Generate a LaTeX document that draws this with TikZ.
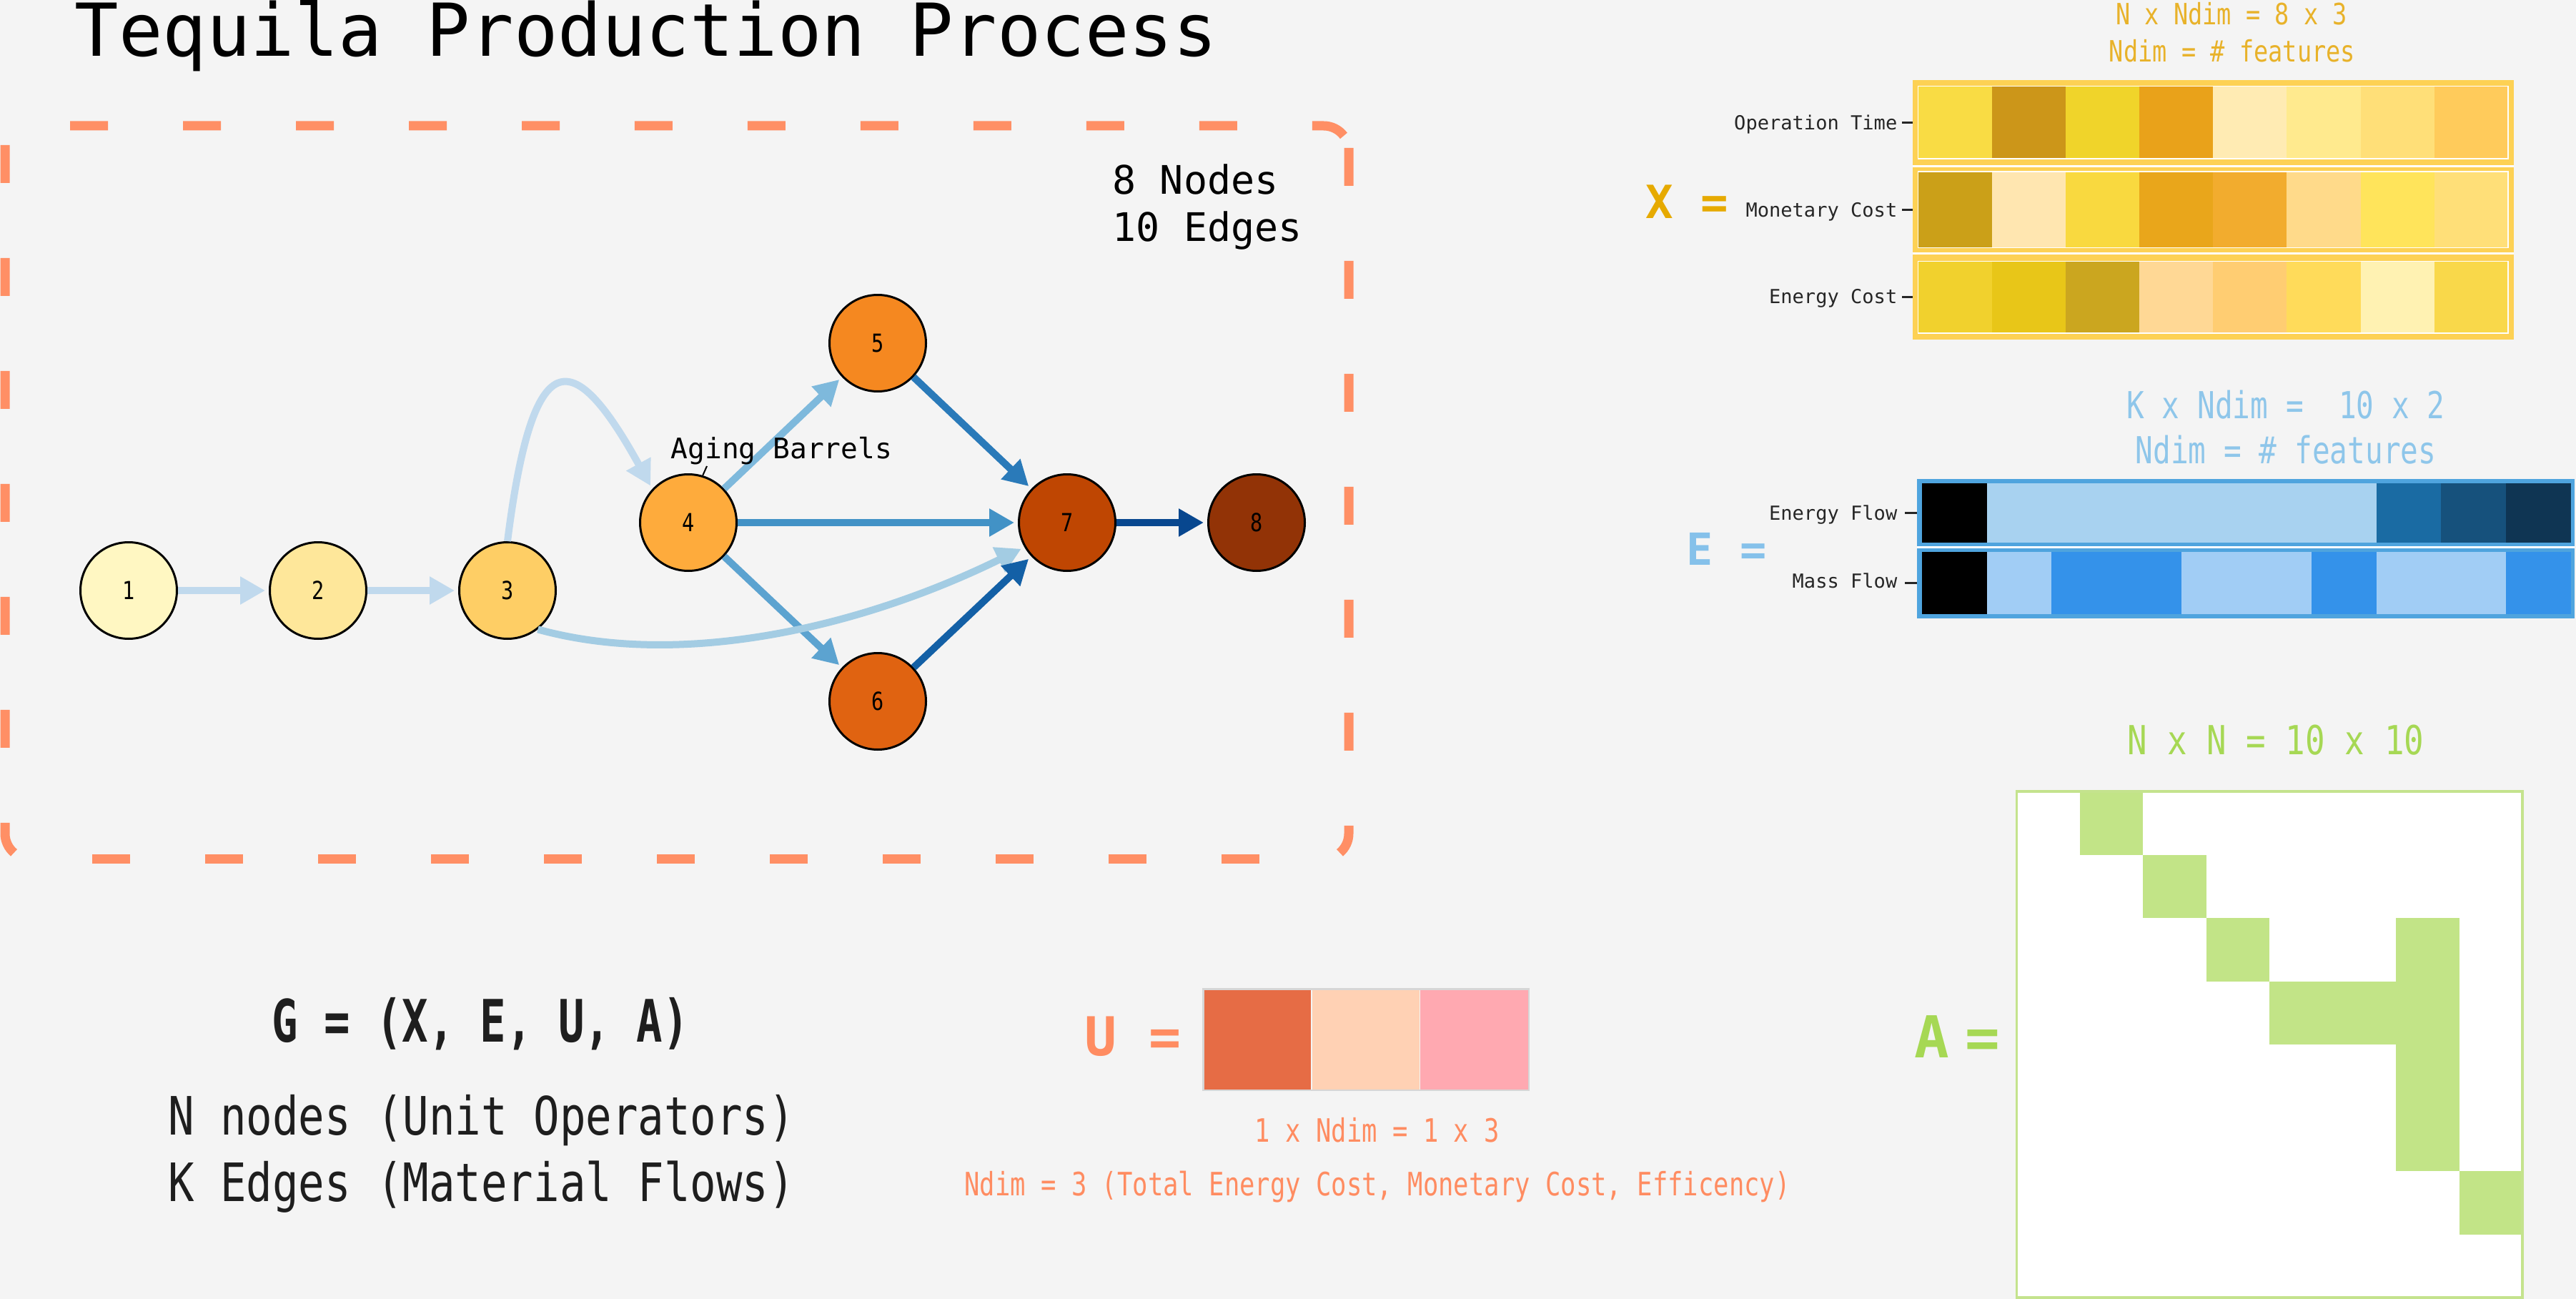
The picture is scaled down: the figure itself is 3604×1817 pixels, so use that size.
\documentclass[tikz,border=0pt]{standalone}
\usepackage{fontspec}
\usetikzlibrary{arrows.meta}
\newfontfamily\mono{DejaVu Sans Mono}
\newfontfamily\monoc[FakeStretch=0.82]{DejaVu Sans Mono}
\newfontfamily\monod[FakeStretch=0.79]{DejaVu Sans Mono}
\newfontfamily\monog[FakeStretch=0.74]{DejaVu Sans Mono}
\definecolor{bg}{HTML}{F4F4F4}
\definecolor{boxc}{HTML}{FF8F65}
\definecolor{txtdark}{HTML}{1E1E1E}
\definecolor{tickc}{HTML}{262626}
\definecolor{xlab}{HTML}{E6AA00}
\definecolor{xtit}{HTML}{E8B22A}
\definecolor{xgold}{HTML}{FDD154}
\definecolor{elab}{HTML}{85C1EA}
\definecolor{etit}{HTML}{8EC6EA}
\definecolor{eblue}{HTML}{4FA4DE}
\definecolor{alab}{HTML}{A6D854}
\definecolor{acell}{HTML}{C2E487}
\definecolor{aframe}{HTML}{C4E38D}
\definecolor{ulab}{HTML}{FF8C61}
\definecolor{uframe}{HTML}{D6D6D6}
\definecolor{c1}{HTML}{FFF7C2}
\definecolor{c2}{HTML}{FEE79A}
\definecolor{c3}{HTML}{FECE65}
\definecolor{c4}{HTML}{FEAB3C}
\definecolor{c5}{HTML}{F58820}
\definecolor{c6}{HTML}{E06311}
\definecolor{c7}{HTML}{BF4602}
\definecolor{c8}{HTML}{923306}
\definecolor{e12}{HTML}{C0D9ED}
\definecolor{e37}{HTML}{A3CCE3}
\definecolor{e45}{HTML}{7EB9DC}
\definecolor{e46}{HTML}{5CA3D0}
\definecolor{e47}{HTML}{4292C6}
\definecolor{e57}{HTML}{2A7AB9}
\definecolor{e67}{HTML}{1360A6}
\definecolor{e78}{HTML}{08478F}
\begin{document}
\begin{tikzpicture}[x=0.1mm,y=-0.1mm,
  gnode/.style={circle,draw=black,line width=0.3mm,minimum size=13.5mm,inner sep=0pt,
    font=\monoc\fontsize{9.9}{11}\selectfont},
  flow/.style={line width=1mm,-{Triangle[length=3.5mm,width=3.7mm]},shorten >=0.5mm},
  boxline/.style={draw=boxc,line width=1.3mm,dash pattern=on 5.3mm off 10.5mm},
  txt/.style={inner sep=0pt},
  tickmark/.style={draw=tickc,line width=0.3mm},
  ticklab/.style={txt,anchor=base east,text=tickc,font=\mono\fontsize{7.7}{9}\selectfont},
]
\useasboundingbox (0,0) rectangle (3604,1817);
\fill[bg] (0,0) rectangle (3604,1817);

% title
\node[txt,anchor=base west,font=\mono\fontsize{29.05}{34}\selectfont] (title) at (104,79) {Tequila Production Process};

% dashed frame
\draw[boxline] (98,176) -- (1852,176) arc[start angle=270,end angle=323,radius=35];
\draw[boxline] (7,203) -- (7,1166) arc[start angle=180,end angle=130,radius=35];
\draw[boxline] (1887,207) -- (1887,1166) arc[start angle=0,end angle=50,radius=35];
\draw[boxline] (129,1201) -- (1762,1201);

\node[txt,anchor=base west,font=\mono\fontsize{15.65}{19}\selectfont] (nnodes) at (1556,272) {8 Nodes};
\node[txt,anchor=base west,font=\mono\fontsize{15.65}{19}\selectfont] (nedges) at (1556,338) {10 Edges};

% graph nodes
\node[gnode,fill=c1] (n1) at (180,826) {1};
\node[gnode,fill=c2] (n2) at (445,826) {2};
\node[gnode,fill=c3] (n3) at (710,826) {3};
\node[gnode,fill=c4] (n4) at (963,731) {4};
\node[gnode,fill=c5] (n5) at (1228,480) {5};
\node[gnode,fill=c6] (n6) at (1228,981) {6};
\node[gnode,fill=c7] (n7) at (1493,731) {7};
\node[gnode,fill=c8] (n8) at (1758,731) {8};

% edges
\draw[flow,draw=e12] (n1) -- (n2);
\draw[flow,draw=e12] (n2) -- (n3);
\draw[flow,draw=e12] (n3.north) .. controls (745,480) and (800,480) .. (n4.137);
\draw[flow,draw=e45] (n4) -- (n5);
\draw[flow,draw=e46] (n4) -- (n6);
\draw[flow,draw=e47] (n4) -- (n7);
\draw[flow,draw=e37] (n3.-52) .. controls (950,935) and (1200,880) .. (n7.210);
\draw[flow,draw=e57] (n5) -- (n7);
\draw[flow,draw=e67] (n6) -- (n7);
\draw[flow,draw=e78] (n7) -- (n8);

% annotation
\node[txt,anchor=base west,font=\mono\fontsize{11.25}{13}\selectfont] (aging) at (938,641) {Aging Barrels};
\coordinate (agpt) at (989,652);
\draw[line width=0.2mm] (agpt) -- (n4.73);

% G definition
\node[txt,anchor=base,text=txtdark,font=\monog\bfseries\fontsize{23.3}{28}\selectfont] (gdef) at (672,1457) {G = (X, E, U, A)};
\node[txt,anchor=base,text=txtdark,font=\monoc\fontsize{21.05}{26}\selectfont] (nline) at (673.5,1587) {N nodes (Unit Operators)};
\node[txt,anchor=base,text=txtdark,font=\monoc\fontsize{21.05}{26}\selectfont] (kline) at (673.5,1680) {K Edges (Material Flows)};

% U vector
\node[txt,anchor=base west,text=ulab,font=\mono\bfseries\fontsize{21.3}{26}\selectfont] (ulabel) at (1517,1476) {U =};
\draw[uframe,line width=0.25mm] (1683.5,1383.5) rectangle (2138.5,1525);
\foreach \xa/\xb/\r/\g/\b in {1684.7/1834.3/230/108/69, 1835.7/1985.9/255/209/180, 1987.3/2137.5/255/169/177}
  \fill[fill={rgb,255:red,\r;green,\g;blue,\b}] (\xa,1384.7) rectangle (\xb,1524);
\node[txt,anchor=base,text=ulab,font=\monod\fontsize{12.8}{15}\selectfont] (udim) at (1927,1597) {1 x Ndim = 1 x 3};
\node[txt,anchor=base,text=ulab,font=\monod\fontsize{12.8}{15}\selectfont] (ufeat) at (1927,1672) {Ndim = 3 (Total Energy Cost, Monetary Cost, Efficency)};

% X matrix
\node[txt,anchor=base,text=xtit,font=\monoc\fontsize{11.67}{14}\selectfont] (xdim) at (3122,35) {N x Ndim = 8 x 3};
\node[txt,anchor=base,text=xtit,font=\monoc\fontsize{11.67}{14}\selectfont] (xfeat) at (3123,87) {Ndim = \# features};
\node[txt,anchor=base west,text=xlab,font=\mono\bfseries\fontsize{18.2}{22}\selectfont] (xlabel) at (2302,305) {X =};
\fill[xgold] (2676,112) rectangle (3517,475);
\fill[white] (2676,230.7) rectangle (3517,234);
\fill[white] (2676,353) rectangle (3517,356);
\foreach \r/\g/\b [count=\i from 0] in {249/220/68,204/150/25,240/212/42,233/162/26,255/235/179,255/234/142,255/223/120,255/203/91}
  \fill[fill={rgb,255:red,\r;green,\g;blue,\b}] (2683.5+103.19*\i,120.7) rectangle (2683.5+103.19*\i+103.19,222);
\foreach \r/\g/\b [count=\i from 0] in {203/160/24,255/230/176,249/217/63,233/166/27,242/172/46,255/218/138,255/228/91,255/223/120}
  \fill[fill={rgb,255:red,\r;green,\g;blue,\b}] (2683.5+103.19*\i,240) rectangle (2683.5+103.19*\i+103.19,346.7);
\foreach \r/\g/\b [count=\i from 0] in {241/209/45,232/198/24,203/166/31,255/216/149,255/205/114,255/219/90,255/242/178,249/216/74}
  \fill[fill={rgb,255:red,\r;green,\g;blue,\b}] (2683.5+103.19*\i,365.7) rectangle (2683.5+103.19*\i+103.19,466);
\draw[white,line width=0.15mm] (2683.5,120.7) rectangle (3509,222);
\draw[white,line width=0.15mm] (2683.5,240) rectangle (3509,346.7);
\draw[white,line width=0.15mm] (2683.5,365.7) rectangle (3509,466);
\draw[tickmark] (2661,171.4) -- (2676,171.4);
\draw[tickmark] (2661,293.5) -- (2676,293.5);
\draw[tickmark] (2661,415.5) -- (2676,415.5);
\node[ticklab] (xt1) at (2655,182) {Operation Time};
\node[ticklab] (xt2) at (2655,304) {Monetary Cost};
\node[ticklab] (xt3) at (2655,424.5) {Energy Cost};

% E matrix
\node[txt,anchor=base,text=etit,font=\monod\fontsize{14.8}{18}\selectfont] (edim) at (3198,585) {K x Ndim =\ \ 10 x 2};
\node[txt,anchor=base,text=etit,font=\monod\fontsize{14.8}{18}\selectfont] (efeat) at (3198,648) {Ndim = \# features};
\node[txt,anchor=base west,text=elab,font=\mono\bfseries\fontsize{17.6}{21}\selectfont] (elabel) at (2359,790) {E =};
\fill[eblue] (2682,670) rectangle (3602,865);
\fill[white] (2682,764) rectangle (3602,767);
\foreach \r/\g/\b [count=\i from 0] in {0/0/0,168/210/240,168/210/240,168/210/240,168/210/240,168/210/240,168/210/240,26/107/163,22/81/124,15/53/83}
  \fill[fill={rgb,255:red,\r;green,\g;blue,\b}] (2688.7+90.83*\i,676) rectangle (2688.7+90.83*\i+90.83,758.7);
\foreach \r/\g/\b [count=\i from 0] in {0/0/0,161/205/245,52/146/234,52/146/234,161/205/245,161/205/245,52/146/234,161/205/245,161/205/245,52/146/234}
  \fill[fill={rgb,255:red,\r;green,\g;blue,\b}] (2688.7+90.83*\i,772) rectangle (2688.7+90.83*\i+90.83,859);
\draw[tickmark] (2665,717) -- (2682,717);
\draw[tickmark] (2665,815) -- (2682,815);
\node[ticklab] (et1) at (2655,727) {Energy Flow};
\node[ticklab] (et2) at (2655,822) {Mass Flow};

% A matrix
\node[txt,anchor=base,text=alab,font=\monoc\fontsize{15.93}{19}\selectfont] (adim) at (3184,1055) {N x N = 10 x 10};
\node[txt,anchor=base west,text=alab,font=\mono\bfseries\fontsize{23}{28}\selectfont] (alabel) at (2678,1479) {A\kern0.27em=};
\fill[white] (2821.5,1107) rectangle (3529,1815);
\foreach \rr/\cc in {0/1,1/2,2/3,2/6,3/4,3/5,3/6,4/6,5/6,6/7}
  \fill[acell] (2821.5+88.44*\cc,1107+88.5*\rr) rectangle (2821.5+88.44*\cc+88.44,1107+88.5*\rr+88.5);
\draw[aframe,line width=0.35mm] (2821.5,1107) rectangle (3529,1815);
\end{tikzpicture}
\end{document}
